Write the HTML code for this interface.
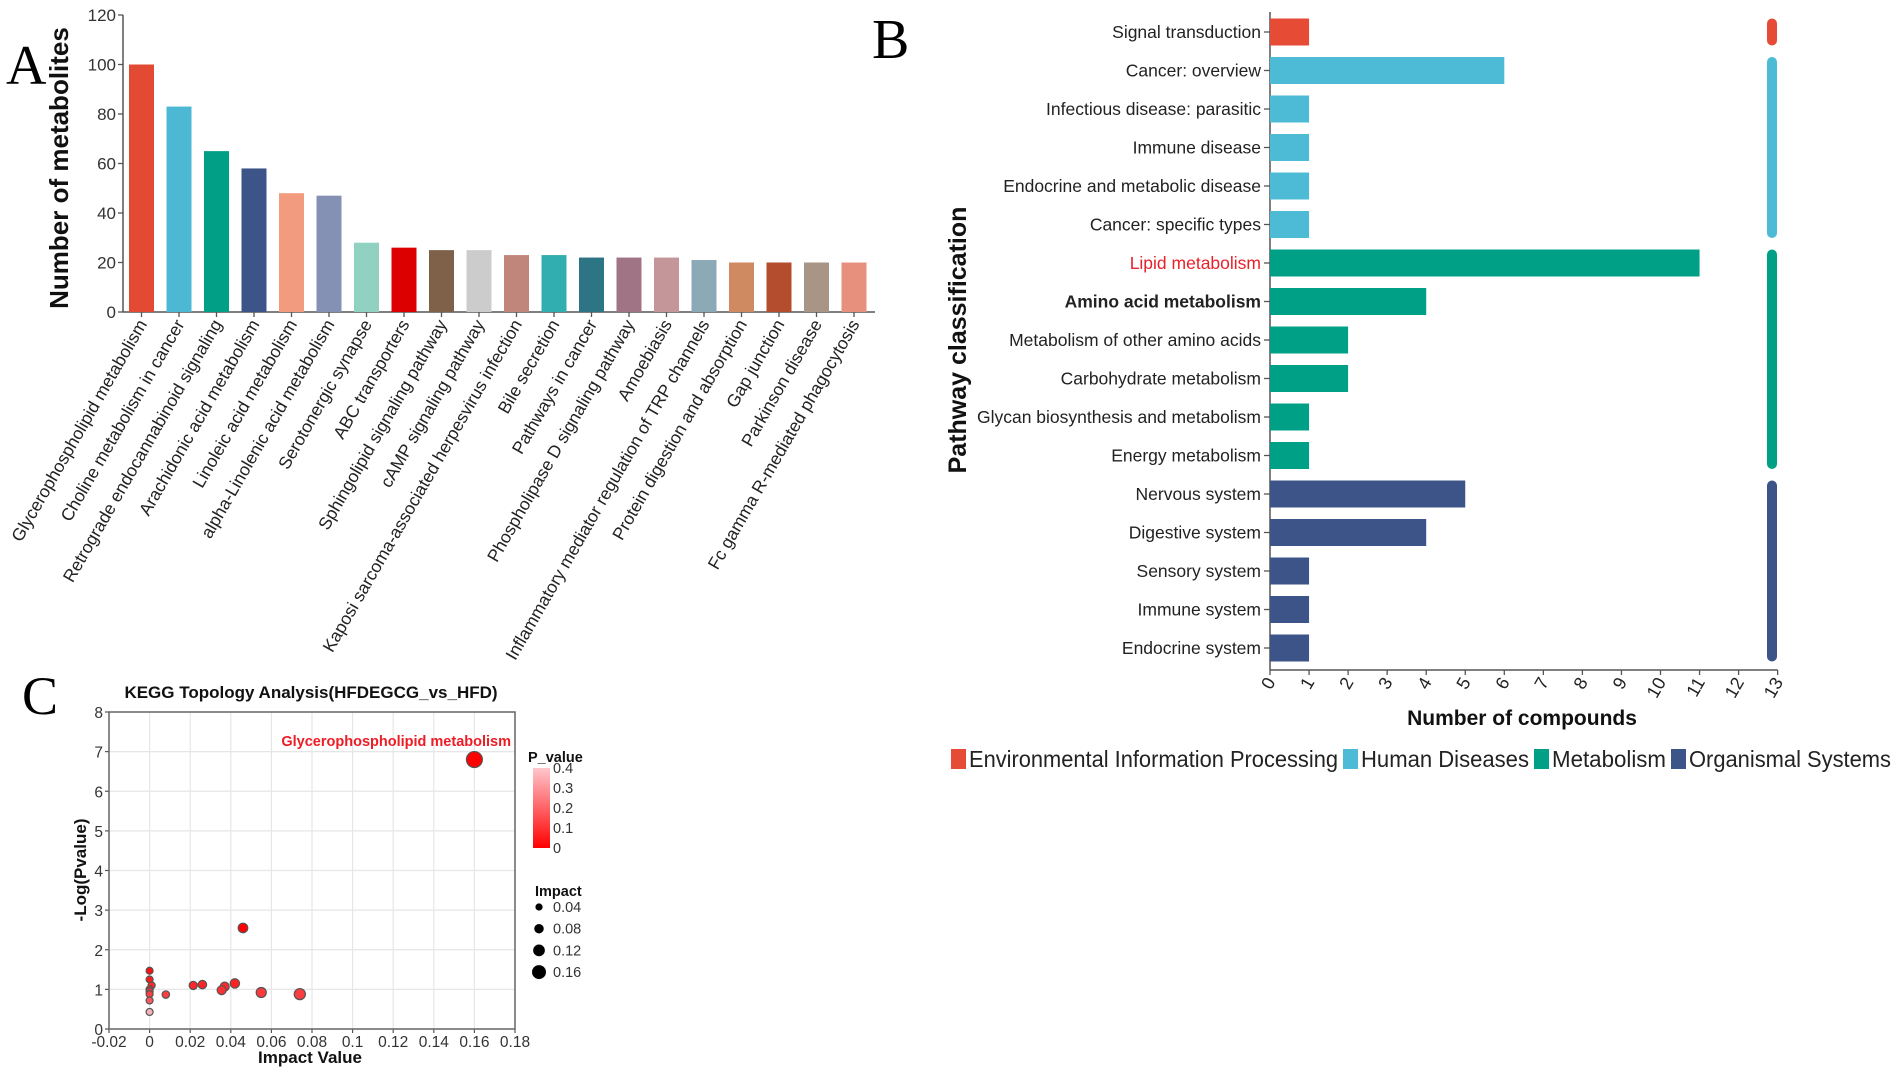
<!DOCTYPE html>
<html><head><meta charset="utf-8"><style>
html,body{margin:0;padding:0;background:#fff;}
svg{display:block;font-family:"Liberation Sans",Arial,sans-serif;}
</style></head><body>
<svg id="fig" width="1902" height="1073" viewBox="0 0 1902 1073" xmlns="http://www.w3.org/2000/svg">
<g id="pa"></g>
<g id="pb"></g>
<g id="pc"></g>
</svg>
<script>
// Panel A data
const aCategories = ["Glycerophospholipid metabolism","Choline metabolism in cancer","Retrograde endocannabinoid signaling","Arachidonic acid metabolism","Linoleic acid metabolism","alpha-Linolenic acid metabolism","Serotonergic synapse","ABC transporters","Sphingolipid signaling pathway","cAMP signaling pathway","Kaposi sarcoma-associated herpesvirus infection","Bile secretion","Pathways in cancer","Phospholipase D signaling pathway","Amoebiasis","Inflammatory mediator regulation of TRP channels","Protein digestion and absorption","Gap junction","Parkinson disease","Fc gamma R-mediated phagocytosis"];
const aValues = [100,83,65,58,48,47,28,26,25,25,23,23,22,22,22,21,20,20,20,20];
const aColors = ["#e34a33","#4cb8d4","#009f86","#3c5488","#f39b7f","#8491b4","#91d1c2","#dc0000","#7e6148","#cccccc","#c0857b","#30aeb0","#2d7585","#a07385","#c49699","#8caab6","#d08a62","#b34d2e","#a89585","#e8907e"];
const aTicks = [0,20,40,60,80,100,120];
// Panel B data
const bCategories = ["Signal transduction","Cancer: overview","Infectious disease: parasitic","Immune disease","Endocrine and metabolic disease","Cancer: specific types","Lipid metabolism","Amino acid metabolism","Metabolism of other amino acids","Carbohydrate metabolism","Glycan biosynthesis and metabolism","Energy metabolism","Nervous system","Digestive system","Sensory system","Immune system","Endocrine system"];
const bValues = [1,6,1,1,1,1,11,4,2,2,1,1,5,4,1,1,1];
const bGroups = [0,1,1,1,1,1,2,2,2,2,2,2,3,3,3,3,3];
const bGroupNames = ["Environmental Information Processing","Human Diseases","Metabolism","Organismal Systems"];
const bGroupColors = ["#e64b35","#4dbbd5","#00a087","#3c5488"];
const bTicks = [0,1,2,3,4,5,6,7,8,9,10,11,12,13];
// Panel C data
const cImpact = [0.16,0.046,0.074,0.055,0.042,0.037,0.0355,0.026,0.0215,0.008,0,0,0.001,0,0,0,0,0];
const cLogP = [6.8,2.55,0.88,0.92,1.15,1.07,0.98,1.12,1.1,0.87,1.47,1.25,1.1,1.0,0.95,0.88,0.72,0.43];
const cPval = [0,0.003,0.13,0.12,0.07,0.085,0.1,0.076,0.08,0.13,0.034,0.056,0.08,0.1,0.11,0.13,0.19,0.37];
const cXTicks = [-0.02,0,0.02,0.04,0.06,0.08,0.1,0.12,0.14,0.16,0.18];
const cYTicks = [0,1,2,3,4,5,6,7,8];
const cLegendImpact = [0.04,0.08,0.12,0.16];
const cLegendP = [0.4,0.3,0.2,0.1,0];

const NS="http://www.w3.org/2000/svg";
function mk(parent,tag,attrs,text){const e=document.createElementNS(NS,tag);for(const k in attrs)e.setAttribute(k,attrs[k]);if(text!==undefined)e.textContent=text;parent.appendChild(e);return e;}

// ---------- Panel A ----------
(function(){
const g=document.getElementById('pa');
const x0=123,y0=312,yTop=15,xEnd=875;
const ay=v=>y0-(y0-yTop)*v/120;
const ax=i=>141.5+i*37.5;
let t=mk(g,'text',{x:6,y:84,'font-family':'Liberation Serif,serif','font-size':56},'A');

mk(g,'line',{x1:x0,y1:y0,x2:xEnd,y2:y0,stroke:'#555','stroke-width':1.5});
mk(g,'line',{x1:x0,y1:yTop,x2:x0,y2:y0,stroke:'#555','stroke-width':1.5});
aTicks.forEach(v=>{
 mk(g,'line',{x1:x0-5,y1:ay(v),x2:x0,y2:ay(v),stroke:'#555','stroke-width':1.3});
 const tl=mk(g,'text',{x:x0-7,y:ay(v)+6,'text-anchor':'end','font-size':17,fill:'#333'},v);
 
});
const yt=mk(g,'text',{x:0,y:0,transform:'translate(68,168) rotate(-90)','text-anchor':'middle','font-size':26,'font-weight':'bold',fill:'#111'},'Number of metabolites');

aValues.forEach((v,i)=>{
 const cx=ax(i);
 const r=mk(g,'rect',{x:cx-12.5,y:ay(v),width:25,height:y0-ay(v),fill:aColors[i]});
 
 mk(g,'line',{x1:cx,y1:y0,x2:cx,y2:y0+5,stroke:'#555','stroke-width':1.3});
 const l=mk(g,'text',{x:0,y:0,transform:`translate(${cx+6},${y0+12}) rotate(-60)`,'text-anchor':'end','font-size':17.5,fill:'#222'},aCategories[i]);
 
});
})();

// ---------- Panel B ----------
(function(){
const g=document.getElementById('pb');
const x0=1270,unit=39.05,yFirst=32,pitch=38.5,bh=27,yAxis=670;
const bx=v=>x0+v*unit;
const by=i=>yFirst+i*pitch;
let t=mk(g,'text',{x:872,y:58,'font-family':'Liberation Serif,serif','font-size':56},'B');

mk(g,'line',{x1:x0,y1:12,x2:x0,y2:yAxis,stroke:'#555','stroke-width':1.5});
mk(g,'line',{x1:x0,y1:yAxis,x2:bx(13),y2:yAxis,stroke:'#555','stroke-width':1.5});
bTicks.forEach(v=>{
 mk(g,'line',{x1:bx(v),y1:yAxis,x2:bx(v),y2:yAxis+5,stroke:'#555','stroke-width':1.3});
 const tl=mk(g,'text',{x:0,y:0,transform:`translate(${bx(v)+6},${yAxis+12}) rotate(-60)`,'text-anchor':'end','font-size':18,fill:'#222'},v);
 
});
const xt=mk(g,'text',{x:1522,y:725,'text-anchor':'middle','font-size':21,'font-weight':'bold',fill:'#111'},'Number of compounds');

const yt=mk(g,'text',{x:0,y:0,transform:'translate(966,340) rotate(-90)','text-anchor':'middle','font-size':25,'font-weight':'bold',fill:'#111'},'Pathway classification');

bValues.forEach((v,i)=>{
 const cy=by(i);
 const r=mk(g,'rect',{x:x0,y:cy-bh/2,width:bx(v)-x0,height:bh,fill:bGroupColors[bGroups[i]]});
 
 mk(g,'line',{x1:x0-6,y1:cy,x2:x0,y2:cy,stroke:'#555','stroke-width':1.3});
 const attrs={x:x0-9,y:cy+6,'text-anchor':'end','font-size':17.5,fill:'#222'};
 if(i===6)attrs.fill='#e8222a';
 if(i===7)attrs['font-weight']='bold';
 const l=mk(g,'text',attrs,bCategories[i]);
 
});
for(let gi=0;gi<bGroupNames.length;gi++){
 const idx=bGroups.map((v,i)=>v===gi?i:-1).filter(i=>i>=0);
 const top=by(idx[0])-bh/2,bot=by(idx[idx.length-1])+bh/2;
 const r=mk(g,'rect',{x:1767,y:top,width:10,height:bot-top,rx:5,fill:bGroupColors[gi]});
 
}
// legend
const legStarts=[951,1343,1534,1671];
const legEnds=[1340,1531,1668,1893];
bGroupNames.forEach((n,i)=>{
 const lg=mk(g,'g',{});
 
 const lx=legStarts[i];
 mk(lg,'rect',{x:lx,y:749,width:15,height:20,fill:bGroupColors[i]});
 mk(lg,'text',{x:lx+18,y:767,'font-size':23,fill:'#222',textLength:legEnds[i]-lx-20,lengthAdjust:'spacingAndGlyphs'},n);
});
})();

// ---------- Panel C ----------
(function(){
const g=document.getElementById('pc');
const L=109,R=515,T=712,B=1029;
const cx=v=>L+(v+0.02)/0.2*(R-L);
const cy=v=>B-v/8*(B-T);
const rad=imp=>3.5+imp*28;
const pcol=p=>{const f=Math.min(p/0.4,1);const gg=Math.round(f*190),bb=Math.round(f*200);return `rgb(${255-Math.round(f*10)},${gg},${bb})`;};
let t=mk(g,'text',{x:22,y:714,'font-family':'Liberation Serif,serif','font-size':54},'C');

const ti=mk(g,'text',{x:311,y:698,'text-anchor':'middle','font-size':17,'font-weight':'bold',fill:'#111'},'KEGG Topology Analysis(HFDEGCG_vs_HFD)');

cXTicks.forEach(v=>{
 mk(g,'line',{x1:cx(v),y1:T,x2:cx(v),y2:B,stroke:'#e6e6e6','stroke-width':1.2});
 mk(g,'line',{x1:cx(v),y1:B,x2:cx(v),y2:B+4,stroke:'#555','stroke-width':1.2});
 const l=mk(g,'text',{x:cx(v),y:1047,'text-anchor':'middle','font-size':15.5,fill:'#333'},String(v));
 
});
cYTicks.forEach(v=>{
 mk(g,'line',{x1:L,y1:cy(v),x2:R,y2:cy(v),stroke:'#e6e6e6','stroke-width':1.2});
 mk(g,'line',{x1:L-4,y1:cy(v),x2:L,y2:cy(v),stroke:'#555','stroke-width':1.2});
 const l=mk(g,'text',{x:L-6,y:cy(v)+6,'text-anchor':'end','font-size':15.5,fill:'#333'},v);
 
});
mk(g,'rect',{x:L,y:T,width:R-L,height:B-T,fill:'none',stroke:'#666','stroke-width':1.5});
const xt=mk(g,'text',{x:310,y:1063,'text-anchor':'middle','font-size':17,'font-weight':'bold',fill:'#111'},'Impact Value');

const yt=mk(g,'text',{x:0,y:0,transform:'translate(86,870) rotate(-90)','text-anchor':'middle','font-size':17,'font-weight':'bold',fill:'#111'},'-Log(Pvalue)');

cImpact.forEach((v,i)=>{
 const c=mk(g,'circle',{cx:cx(v),cy:cy(cLogP[i]),r:rad(v),fill:pcol(cPval[i]),stroke:'#555','stroke-width':1.2});
 
});
const ann=mk(g,'text',{x:511,y:746,'text-anchor':'end','font-size':14.5,'font-weight':'bold',fill:'#ee1c25'},'Glycerophospholipid metabolism');

const pl=mk(g,'g',{});
mk(pl,'text',{x:528,y:762,'font-size':14.5,'font-weight':'bold',fill:'#111'},'P_value');
const defs=mk(g,'defs',{});const lgr=mk(defs,'linearGradient',{id:'pg',x1:0,y1:0,x2:0,y2:1});
mk(lgr,'stop',{offset:'0','stop-color':'#ffc6cc'});mk(lgr,'stop',{offset:'1','stop-color':'#ff0000'});
mk(pl,'rect',{x:533,y:768,width:17,height:80,fill:'url(#pg)'});
cLegendP.forEach(v=>{const yy=768+(0.4-v)/0.4*80;mk(pl,'text',{x:553,y:yy+5,'font-size':14.5,fill:'#333'},v);});
const il=mk(g,'g',{});
mk(il,'text',{x:535,y:896,'font-size':14.5,'font-weight':'bold',fill:'#111'},'Impact');
cLegendImpact.forEach((v,i)=>{const yy=907+i*21.7;mk(il,'circle',{cx:539,cy:yy,r:rad(v)-1,fill:'#000'});mk(il,'text',{x:553,y:yy+5,'font-size':14.5,fill:'#333'},v);});
})();
</script>
</body></html>
